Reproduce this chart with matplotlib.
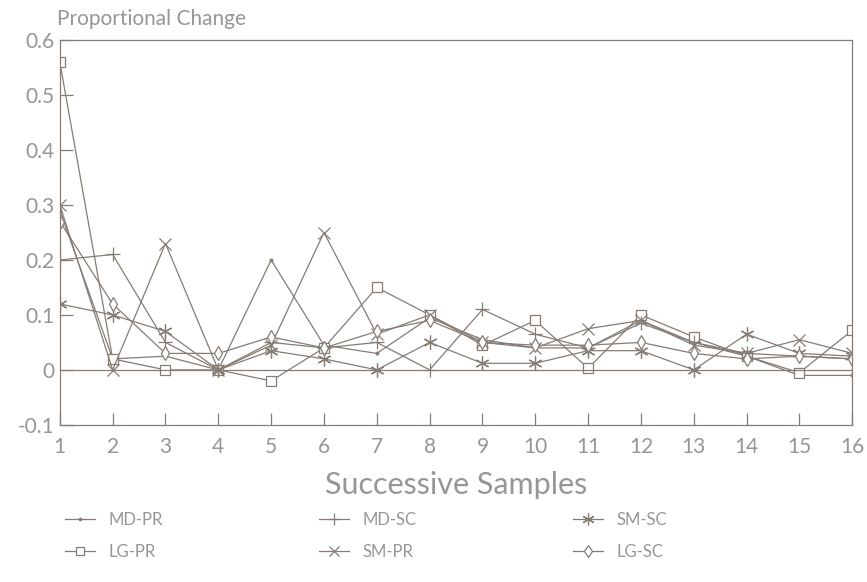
import matplotlib
matplotlib.use('Agg')
import matplotlib.pyplot as plt

samples = list(range(1, 17))

md_pr = [0.29, 0.02, 0.025, 0.0, 0.20, 0.045, 0.03, 0.095, 0.055, 0.04, 0.04, 0.09, 0.05, 0.025, -0.01, -0.01]
md_sc = [0.20, 0.21, 0.05, 0.0, 0.05, 0.04, 0.05, 0.0, 0.11, 0.065, 0.04, 0.085, 0.05, 0.03, 0.025, 0.02]
sm_sc = [0.12, 0.10, 0.07, 0.0, 0.035, 0.02, 0.0, 0.05, 0.012, 0.012, 0.035, 0.035, 0.0, 0.065, 0.03, 0.025]
lg_pr = [0.56, 0.02, 0.0, 0.0, -0.02, 0.04, 0.15, 0.10, 0.045, 0.09, 0.003, 0.10, 0.06, 0.025, -0.005, 0.072]
sm_pr = [0.30, 0.0, 0.23, 0.0, 0.045, 0.25, 0.065, 0.10, 0.05, 0.04, 0.075, 0.09, 0.045, 0.03, 0.055, 0.03]
lg_sc = [0.27, 0.12, 0.03, 0.03, 0.06, 0.04, 0.07, 0.09, 0.05, 0.045, 0.045, 0.05, 0.03, 0.02, 0.025, 0.02]

line_col = '#857c74'
text_col = '#969696'

plt.rcParams['font.family'] = ['Lato', 'DejaVu Sans']

fig = plt.figure(figsize=(8.67, 5.82), dpi=100)
ax = fig.add_axes([0.069, 0.27, 0.914, 0.661])

series = [
    ('MD-PR', md_pr, dict(marker='.', markersize=4)),
    ('LG-PR', lg_pr, dict(marker='s', markersize=7, markerfacecolor='white')),
    ('MD-SC', md_sc, dict(marker='+', markersize=10)),
    ('SM-PR', sm_pr, dict(marker='x', markersize=8)),
    ('SM-SC', sm_sc, dict(marker=(6, 2, 0), markersize=10)),
    ('LG-SC', lg_sc, dict(marker='d', markersize=7, markerfacecolor='white')),
]
for name, vals, style in series:
    ax.plot(samples, vals, color=line_col, linewidth=0.9, label=name,
            markeredgecolor=line_col, markeredgewidth=0.9, **style)

ax.axhline(0, color=line_col, linewidth=0.9)
ax.set_xlim(1, 16)
ax.set_ylim(-0.1, 0.6)
ax.set_xticks(samples)
ax.set_yticks([-0.1, 0, 0.1, 0.2, 0.3, 0.4, 0.5, 0.6])
ax.set_yticklabels(['-0.1', '0', '0.1', '0.2', '0.3', '0.4', '0.5', '0.6'])
ax.tick_params(direction='in', length=9, width=0.9, color=line_col,
               labelcolor=text_col, labelsize=15)
ax.tick_params(axis='x', pad=9)
ax.tick_params(axis='y', pad=4)
for sp in ax.spines.values():
    sp.set_color(line_col)
    sp.set_linewidth(0.9)

ax.set_xlabel('Successive Samples', fontsize=22, color=text_col, labelpad=10)
fig.text(0.066, 0.957, 'Proportional Change', fontsize=15, color=text_col)

fig.legend(loc='upper left', bbox_to_anchor=(0.075, 0.12), ncol=3, frameon=False,
           fontsize=12, labelcolor=text_col, columnspacing=9.4, handlelength=1.8,
           handletextpad=0.8, labelspacing=0.95, borderpad=0, borderaxespad=0,
           markerscale=0.85)

fig.savefig('out.png', dpi=100)
